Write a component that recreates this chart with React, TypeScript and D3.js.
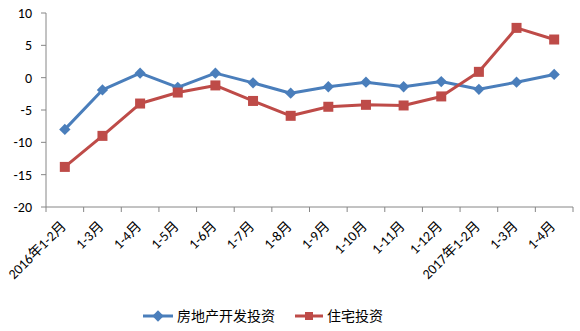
import React from "react";
import * as d3 from "d3";

const categories = ["2016年1-2月", "1-3月", "1-4月", "1-5月", "1-6月", "1-7月", "1-8月", "1-9月", "1-10月", "1-11月", "1-12月", "2017年1-2月", "1-3月", "1-4月"];
const realEstate = [-8.0, -1.9, 0.7, -1.5, 0.7, -0.8, -2.4, -1.4, -0.7, -1.4, -0.6, -1.8, -0.7, 0.5];
const housing = [-13.8, -9.0, -4.0, -2.3, -1.2, -3.6, -5.9, -4.5, -4.2, -4.3, -2.9, 0.9, 7.7, 5.9];
const yTicks = [10, 5, 0, -5, -10, -15, -20];
const seriesNames = ["房地产开发投资", "住宅投资"];

const W = 580, H = 331;
const left = 46, right = 573, top = 13, bottom = 207;
const BLUE = "#4A7EBB";
const RED = "#BE4B48";
const AXIS = "#868686";
const FONT = "Calibri, 'Liberation Sans', 'Noto Sans CJK SC', sans-serif";

export default function App() {
  const idx = categories.map((_, i) => String(i));
  const x = d3.scaleBand<string>().domain(idx).range([left, right]);
  const y = d3.scaleLinear().domain([-20, 10]).range([bottom, top]);
  const cx = (i: number) => (x(String(i)) as number) + x.bandwidth() / 2;
  const line = d3.line<number>().x((_, i) => cx(i)).y((d) => y(d));
  const tickXs = d3.range(categories.length + 1).map((i) => left + i * x.bandwidth());

  return (
    <svg width={W} height={H} style={{ position: "absolute", left: 0, top: 0, background: "#fff" }} fontFamily={FONT}>
      {/* y axis */}
      <line x1={left} x2={left} y1={top} y2={bottom} stroke={AXIS} strokeWidth={1} />
      {yTicks.map((t) => (
        <g key={t}>
          <line x1={left - 5} x2={left} y1={y(t)} y2={y(t)} stroke={AXIS} />
          <text x={left - 14} y={y(t)} dy="0.35em" textAnchor="end" fontSize={14} fill="#000">{t}</text>
        </g>
      ))}
      {/* x axis */}
      <line x1={left} x2={right} y1={bottom} y2={bottom} stroke={AXIS} strokeWidth={1} />
      {tickXs.map((tx, i) => (
        <line key={i} x1={tx} x2={tx} y1={bottom} y2={bottom + 5} stroke={AXIS} />
      ))}
      {categories.map((c, i) => (
        <text key={i} transform={`translate(${cx(i) + 2},${bottom + 20}) rotate(-45)`} textAnchor="end" fontSize={14} fill="#000">{c}</text>
      ))}
      {/* series */}
      <path d={line(realEstate) || ""} fill="none" stroke={BLUE} strokeWidth={3} strokeLinejoin="round" />
      {realEstate.map((v, i) => (
        <rect key={i} x={-4} y={-4} width={8} height={8} fill={BLUE} transform={`translate(${cx(i)},${y(v)}) rotate(45)`} />
      ))}
      <path d={line(housing) || ""} fill="none" stroke={RED} strokeWidth={3} strokeLinejoin="round" />
      {housing.map((v, i) => (
        <rect key={i} x={cx(i) - 5} y={y(v) - 5} width={10} height={10} fill={RED} />
      ))}
      {/* legend */}
      <g>
        <line x1={143} x2={173} y1={316} y2={316} stroke={BLUE} strokeWidth={3} />
        <rect x={-4} y={-4} width={8} height={8} fill={BLUE} transform={`translate(158,316) rotate(45)`} />
        <text x={177} y={316} dy="0.35em" fontSize={14} fill="#000">{seriesNames[0]}</text>
        <line x1={295} x2={323} y1={316} y2={316} stroke={RED} strokeWidth={3} />
        <rect x={305} y={312} width={8} height={8} fill={RED} />
        <text x={327} y={316} dy="0.35em" fontSize={14} fill="#000">{seriesNames[1]}</text>
      </g>
    </svg>
  );
}
